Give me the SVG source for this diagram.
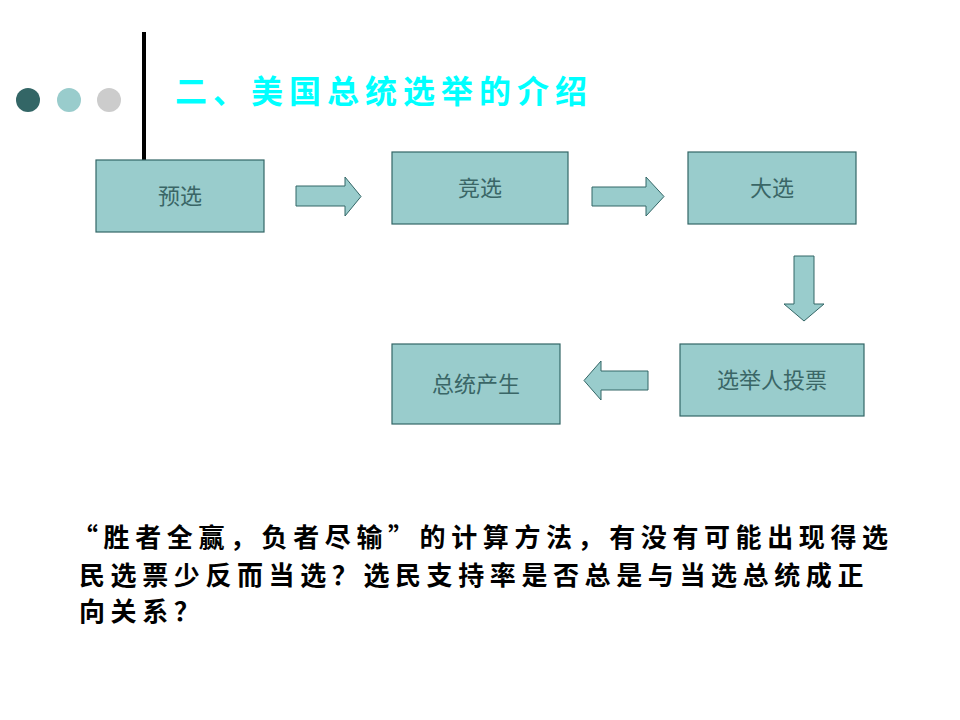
<svg xmlns="http://www.w3.org/2000/svg" width="960" height="720" viewBox="0 0 960 720">
<style>
.box{fill:#99CCCC;stroke:#336666;stroke-width:1.2}
.lbl{font-family:"Noto Sans CJK SC","Noto Sans",sans-serif;font-size:22px;fill:#3A6666;text-anchor:middle}
.arr{fill:#99CCCC;stroke:#336666;stroke-width:1}
.q{font-family:"Noto Sans CJK SC",sans-serif;font-size:26px;font-weight:bold;fill:#000;letter-spacing:5.6px}
</style>
<rect width="960" height="720" fill="#FFFFFF"/>
<g id="decor">
<circle cx="28" cy="100" r="12" fill="#336666"/>
<circle cx="69" cy="100" r="12" fill="#99CCCC"/>
<circle cx="109" cy="100" r="12" fill="#CCCCCC"/>
<rect x="142" y="32" width="4" height="128" fill="#000"/>
<text x="175" y="103" font-family="Noto Sans CJK SC,sans-serif" font-size="32" font-weight="bold" fill="#00FFFF" letter-spacing="6">二、美国总统选举的介绍</text>
</g>
<g id="connectors">
<polygon class="arr" points="296,186 345,186 345,177 361,196.5 345,216 345,206 296,206"/>
<polygon class="arr" points="592,187 646,187 646,177 664,196.5 646,216 646,206 592,206"/>
<polygon class="arr" points="794,256 814,256 814,304 824,304 804,321 784,304 794,304"/>
<polygon class="arr" points="648,371 601,371 601,361 584,380.5 601,400 601,390 648,390"/>
</g>
<g id="n1"><rect class="box" x="96" y="160" width="168" height="72"/><text class="lbl" x="180" y="204">预选</text></g>
<g id="n2"><rect class="box" x="392" y="152" width="176" height="72"/><text class="lbl" x="480" y="196">竞选</text></g>
<g id="n3"><rect class="box" x="688" y="152" width="168" height="72"/><text class="lbl" x="772" y="196">大选</text></g>
<g id="n4"><rect class="box" x="680" y="344" width="184" height="72"/><text class="lbl" x="772" y="388">选举人投票</text></g>
<g id="n5"><rect class="box" x="392" y="344" width="168" height="80"/><text class="lbl" x="476" y="392">总统产生</text></g>
<g id="question">
<text class="q" x="72" y="547">“胜者全赢，负者尽输”的计算方法，有没有可能出现得选</text>
<text class="q" x="79" y="585">民选票少反而当选？选民支持率是否总是与当选总统成正</text>
<text class="q" x="79" y="621">向关系？</text>
</g>
</svg>
